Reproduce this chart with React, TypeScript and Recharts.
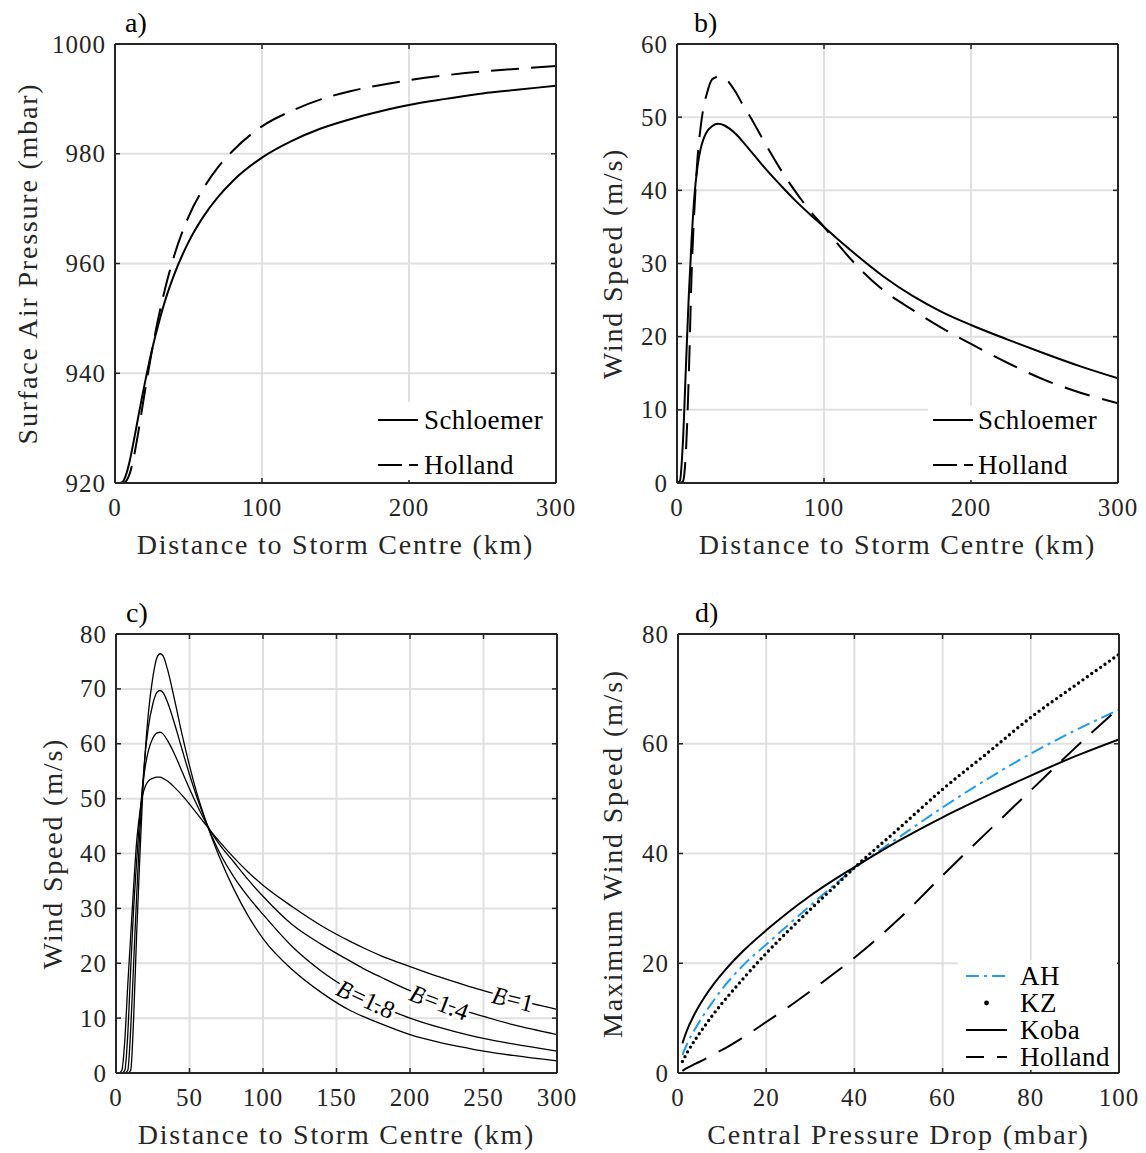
import React from "react";
import { LineChart, Line, XAxis, YAxis, CartesianGrid, Legend } from "recharts";

const FONT = '"Liberation Serif", "Times New Roman", serif';
const INK = "#262626";
const GRID = "#e0e0e0";
const AH_BLUE = "#1f9cf0";

// a) surface pressure vs distance
const A_R = [0, 2, 4, 6, 8, 10, 12, 14, 16, 18, 20, 25, 30, 35, 40, 50, 60, 70, 80, 100, 120, 140, 160, 180, 200, 225, 250, 275, 300];
const A_SCHLOEMER = [920, 920, 920.04, 920.5, 921.9, 924.0, 926.6, 929.4, 932.3, 935.1, 937.8, 944.1, 949.4, 954.0, 957.8, 963.9, 968.5, 972.1, 975.0, 979.3, 982.3, 984.6, 986.3, 987.7, 988.9, 990.0, 991.0, 991.7, 992.4];
const A_HOLLAND = [920, 920, 920, 920.05, 920.5, 921.7, 923.7, 926.4, 929.5, 932.8, 936.1, 943.9, 950.7, 956.4, 961.2, 968.5, 973.6, 977.5, 980.5, 985.0, 987.8, 989.9, 991.4, 992.5, 993.4, 994.3, 995.0, 995.5, 996.0];

// b) wind speed vs distance
const B_R = [0, 2, 4, 6, 8, 10, 12, 14, 16, 18, 20, 24, 28, 32, 36, 40, 45, 50, 55, 60, 70, 80, 90, 100, 110, 120, 140, 160, 180, 200, 225, 250, 275, 300];
const B_SCHLOEMER = [0, 0.3, 5.5, 15.5, 25.5, 33.5, 39.6, 43.3, 45.6, 47.0, 47.9, 48.8, 49.1, 48.9, 48.4, 47.7, 46.6, 45.4, 44.2, 43.0, 40.8, 38.7, 36.8, 35.0, 33.2, 31.5, 28.3, 25.6, 23.4, 21.6, 19.6, 17.7, 15.9, 14.3];
const B_HOLLAND = [0, 0, 0.2, 4, 14.5, 29, 38, 44.5, 48.5, 51.3, 53.0, 55.2, 55.5, 55.4, 54.6, 53.4, 51.6, 50.0, 48.2, 46.4, 43.0, 40.0, 37.3, 35.0, 32.5, 30.2, 26.4, 23.7, 21.2, 19.0, 16.4, 14.1, 12.3, 10.9];

// c) Holland profiles for several B
const C_R = [0, 2, 4, 6, 8, 10, 12, 14, 16, 18, 20, 22, 25, 28, 30, 32, 35, 40, 45, 50, 55, 60, 65, 70, 80, 90, 100, 120, 140, 160, 170, 180, 200, 220, 240, 250, 270, 300];
const C_B10 = [0, 0, 0.5, 6, 16, 25, 34, 42, 47, 50.5, 52.3, 53.2, 53.7, 53.9, 53.9, 53.7, 53.2, 52.0, 50.6, 49.0, 47.3, 45.6, 43.9, 42.3, 39.3, 36.6, 34.2, 30.3, 26.8, 23.9, 22.6, 21.4, 19.4, 17.5, 15.8, 15.0, 13.5, 11.6];
const C_B14 = [0, 0, 0, 0.5, 7, 19, 30, 38.5, 46, 52, 56, 58.7, 61, 62, 62.1, 61.8, 60.6, 58.0, 54.9, 51.8, 48.9, 46.2, 43.8, 41.8, 38.5, 35.2, 32.2, 27.0, 23.4, 20.3, 18.8, 17.5, 15.0, 12.9, 11.1, 10.3, 8.8, 7.0];
const C_B18 = [0, 0, 0, 0, 0.5, 8, 20, 32, 43, 52, 58.5, 63, 67.2, 69.4, 69.7, 69.3, 67.6, 63.5, 58.9, 54.4, 50.3, 46.6, 43.3, 40.4, 35.8, 32.1, 28.9, 23.0, 18.5, 15.0, 13.5, 12.2, 10.0, 8.3, 6.9, 6.3, 5.3, 4.0];
const C_B22 = [0, 0, 0, 0, 0, 0.5, 10, 25, 38, 50, 59, 65.5, 72, 75.8, 76.4, 76.0, 73.6, 67.8, 61.6, 56.0, 51.0, 46.8, 43.0, 39.6, 33.6, 28.6, 24.5, 18.8, 14.6, 11.3, 10.1, 9.0, 7.0, 5.6, 4.5, 4.0, 3.2, 2.2];

// d) maximum wind vs central pressure drop
const D_P = [1, 2, 4, 6, 8, 10, 15, 20, 25, 30, 35, 40, 50, 60, 70, 80, 90, 100];
const D_AH = [3.3, 5.2, 8.2, 10.8, 13.1, 15.3, 19.8, 23.4, 27.0, 30.5, 34.0, 37.3, 42.9, 48.4, 53.5, 58.2, 62.4, 66.2];
const D_KZ = [2.1, 3.6, 6.2, 8.5, 10.7, 12.7, 17.4, 21.8, 25.9, 29.8, 33.6, 37.4, 44.5, 51.7, 58.2, 64.8, 70.6, 76.3];
const D_KOBA = [5.4, 7.7, 11.1, 13.8, 16.1, 18.1, 22.4, 26.0, 29.3, 32.3, 35.0, 37.5, 42.3, 46.6, 50.5, 54.2, 57.7, 60.8];
const D_HOLLAND = [0.4, 0.9, 1.7, 2.5, 3.4, 4.2, 6.6, 9.3, 12.0, 14.9, 17.9, 21.0, 28.0, 36.0, 43.8, 51.5, 59.2, 66.5];

const DIST_TICKS = [0, 100, 200, 300];
const DIST_TICKS_C = [0, 50, 100, 150, 200, 250, 300];
const DROP_TICKS = [0, 20, 40, 60, 80, 100];

// chart box geometry (plot area inside each chart)
const CW = 590;
const CH = 576;
const PL = 115;
const PT = 44;
const PW = 441;
const PH = 439;
const YW = 100;
const TICK = 5;

type Series = {
  key: string;
  name: string;
  values: number[];
  color: string;
  width: number;
  dash?: string;
  legendDash?: string;
  dotted?: boolean;
  tag?: { at: number; text: string; angle: number };
};

type LegendCfg = {
  x: number;
  y: number;
  w: number;
  h: number;
  rows: number[];
  sx0: number;
  sx1: number;
  tx: number;
};

type PanelProps = {
  plotLeft: number;
  plotTop: number;
  tag: string;
  tagDx: number;
  xs: number[];
  xDomain: [number, number];
  xTicks: number[];
  yDomain: [number, number];
  yTicks: number[];
  xTitle: string;
  yTitle: string;
  yTitleDx: number;
  series: Series[];
  legend?: LegendCfg;
};

const BottomTick = (p: any) => (
  <g>
    <line x1={p.x} y1={p.y} x2={p.x} y2={p.y - TICK} stroke={INK} strokeWidth={1.5} />
    <text x={p.x} y={p.y + 33} textAnchor="middle" fill={INK} fontFamily={FONT} fontSize={25} letterSpacing={1}>
      {p.payload.value}
    </text>
  </g>
);

const LeftTick = (p: any) => (
  <g>
    <line x1={p.x} y1={p.y} x2={p.x + TICK} y2={p.y} stroke={INK} strokeWidth={1.5} />
    <text x={p.x - 9} y={p.y + 8.5} textAnchor="end" fill={INK} fontFamily={FONT} fontSize={25} letterSpacing={1}>
      {p.payload.value}
    </text>
  </g>
);

const TopTick = (p: any) => (
  <line x1={p.x} y1={p.y} x2={p.x} y2={p.y + TICK} stroke={INK} strokeWidth={1.5} />
);

const RightTick = (p: any) => (
  <line x1={p.x} y1={p.y} x2={p.x - TICK} y2={p.y} stroke={INK} strokeWidth={1.5} />
);

const XTitle = (p: any) => {
  const vb = p.viewBox || {};
  return (
    <text x={vb.x + vb.width / 2} y={vb.y + 71} textAnchor="middle" fill={INK} fontFamily={FONT} fontSize={28} letterSpacing={1.8}>
      {p.text}
    </text>
  );
};

// y title plus the panel letter above the plot's top-left corner
const YTitle = (p: any) => {
  const vb = p.viewBox || {};
  const left = vb.x + vb.width;
  const cx = left + p.dx;
  const cy = vb.y + vb.height / 2;
  return (
    <g>
      <text x={cx} y={cy} transform={`rotate(-90 ${cx} ${cy})`} textAnchor="middle" dominantBaseline="central" fill={INK} fontFamily={FONT} fontSize={28} letterSpacing={1.8}>
        {p.text}
      </text>
      <text x={left + p.tagDx} y={vb.y - 12} fill="#000" fontFamily={FONT} fontSize={28}>
        {p.tag}
      </text>
    </g>
  );
};

function curveTag(s: Series, xs: number[]) {
  if (!s.tag) return undefined;
  const t = s.tag;
  const idx = xs.indexOf(t.at);
  return (lp: any) => {
    if (lp.index !== idx) return null;
    return (
      <text
        x={lp.x}
        y={lp.y}
        transform={`rotate(${t.angle} ${lp.x} ${lp.y})`}
        textAnchor="middle"
        dominantBaseline="central"
        fontFamily={FONT}
        fontSize={25}
        fill="#000"
        stroke="#fff"
        strokeWidth={7}
        strokeLinejoin="round"
        paintOrder="stroke"
      >
        <tspan fontStyle="italic">B</tspan>={t.text}
      </text>
    );
  };
}

function LegendBox({ cfg, series }: { cfg: LegendCfg; series: Series[] }) {
  return (
    <svg width={cfg.w} height={cfg.h} style={{ display: "block", background: "#fff" }}>
      {series.map((s, i) => {
        const y = cfg.rows[i];
        return (
          <g key={s.key}>
            {s.dotted ? (
              <circle cx={(cfg.sx0 + cfg.sx1) / 2} cy={y} r={2.4} fill={s.color} />
            ) : (
              <line x1={cfg.sx0} y1={y} x2={cfg.sx1} y2={y} stroke={s.color} strokeWidth={s.width} strokeDasharray={s.legendDash || s.dash} />
            )}
            <text x={cfg.tx} y={y + 9} fill="#000" fontFamily={FONT} fontSize={27} letterSpacing={0.4}>
              {s.name}
            </text>
          </g>
        );
      })}
    </svg>
  );
}

function Panel(props: PanelProps) {
  const { xs, series, legend } = props;
  const rows = xs.map((x, i) => {
    const row: Record<string, number> = { x };
    series.forEach((s) => {
      row[s.key] = s.values[i];
    });
    return row;
  });
  const frame = { stroke: INK, strokeWidth: 2 };
  return (
    <div style={{ position: "absolute", left: props.plotLeft - PL, top: props.plotTop - PT, width: CW, height: CH }}>
      <LineChart width={CW} height={CH} data={rows} margin={{ top: PT - 1, right: CW - PL - PW - 1, bottom: 0, left: PL - YW }}>
        <CartesianGrid stroke={GRID} strokeWidth={2} />
        <XAxis
          dataKey="x"
          type="number"
          domain={props.xDomain}
          ticks={props.xTicks}
          interval={0}
          allowDataOverflow
          height={CH - PT - PH}
          tickSize={0}
          tickMargin={0}
          tickLine={false}
          axisLine={frame}
          tick={BottomTick}
          label={<XTitle text={props.xTitle} />}
        />
        <XAxis
          xAxisId="top"
          orientation="top"
          dataKey="x"
          type="number"
          domain={props.xDomain}
          ticks={props.xTicks}
          interval={0}
          allowDataOverflow
          height={1}
          tickSize={0}
          tickMargin={0}
          tickLine={false}
          axisLine={frame}
          tick={TopTick}
        />
        <YAxis
          type="number"
          domain={props.yDomain}
          ticks={props.yTicks}
          interval={0}
          allowDataOverflow
          width={YW}
          tickSize={0}
          tickMargin={0}
          tickLine={false}
          axisLine={frame}
          tick={LeftTick}
          label={<YTitle text={props.yTitle} dx={props.yTitleDx} tag={props.tag} tagDx={props.tagDx} />}
        />
        <YAxis
          yAxisId="right"
          orientation="right"
          type="number"
          domain={props.yDomain}
          ticks={props.yTicks}
          interval={0}
          allowDataOverflow
          width={1}
          tickSize={0}
          tickMargin={0}
          tickLine={false}
          axisLine={frame}
          tick={RightTick}
        />
        {series.map((s) => (
          <Line
            key={s.key}
            dataKey={s.key}
            name={s.name}
            type="monotone"
            stroke={s.color}
            strokeWidth={s.dotted ? 3.4 : s.width}
            strokeDasharray={s.dotted ? "0 5.4" : s.dash}
            strokeLinecap={s.dotted ? "round" : "butt"}
            dot={false}
            activeDot={false}
            isAnimationActive={false}
            label={curveTag(s, xs)}
          />
        ))}
        {legend && (
          <Legend
            layout="vertical"
            align="center"
            verticalAlign="middle"
            wrapperStyle={{ left: legend.x, top: legend.y, width: legend.w, height: legend.h }}
            content={() => <LegendBox cfg={legend} series={series} />}
          />
        )}
      </LineChart>
    </div>
  );
}

export default function App() {
  return (
    <div style={{ position: "absolute", left: 0, top: 0, width: 1146, height: 1153, background: "#fff", overflow: "hidden" }}>
      <Panel
        plotLeft={115}
        plotTop={44}
        tag="a)"
        tagDx={10}
        xs={A_R}
        xDomain={[0, 300]}
        xTicks={DIST_TICKS}
        yDomain={[920, 1000]}
        yTicks={[920, 940, 960, 980, 1000]}
        xTitle="Distance to Storm Centre (km)"
        yTitle="Surface Air Pressure (mbar)"
        yTitleDx={-88}
        series={[
          { key: "s", name: "Schloemer", values: A_SCHLOEMER, color: "#000", width: 2 },
          { key: "h", name: "Holland", values: A_HOLLAND, color: "#000", width: 2, dash: "28 12", legendDash: "24 7" },
        ]}
        legend={{ x: 371, y: 402, w: 184, h: 78, rows: [18, 63], sx0: 7, sx1: 47, tx: 53 }}
      />
      <Panel
        plotLeft={677}
        plotTop={44}
        tag="b)"
        tagDx={17}
        xs={B_R}
        xDomain={[0, 300]}
        xTicks={DIST_TICKS}
        yDomain={[0, 60]}
        yTicks={[0, 10, 20, 30, 40, 50, 60]}
        xTitle="Distance to Storm Centre (km)"
        yTitle="Wind Speed (m/s)"
        yTitleDx={-65}
        series={[
          { key: "s", name: "Schloemer", values: B_SCHLOEMER, color: "#000", width: 2 },
          { key: "h", name: "Holland", values: B_HOLLAND, color: "#000", width: 2, dash: "26 13", legendDash: "24 7" },
        ]}
        legend={{ x: 366, y: 406, w: 189, h: 74, rows: [14, 59], sx0: 5, sx1: 45, tx: 50 }}
      />
      <Panel
        plotLeft={116}
        plotTop={634}
        tag="c)"
        tagDx={10}
        xs={C_R}
        xDomain={[0, 300]}
        xTicks={DIST_TICKS_C}
        yDomain={[0, 80]}
        yTicks={[0, 10, 20, 30, 40, 50, 60, 70, 80]}
        xTitle="Distance to Storm Centre (km)"
        yTitle="Wind Speed (m/s)"
        yTitleDx={-64}
        series={[
          { key: "b10", name: "B=1", values: C_B10, color: "#000", width: 1.3, tag: { at: 270, text: "1", angle: 14 } },
          { key: "b14", name: "B=1.4", values: C_B14, color: "#000", width: 1.3, tag: { at: 220, text: "1.4", angle: 21 } },
          { key: "b18", name: "B=1.8", values: C_B18, color: "#000", width: 1.3, tag: { at: 170, text: "1.8", angle: 25 } },
          { key: "b22", name: "B=2.2", values: C_B22, color: "#000", width: 1.3 },
        ]}
      />
      <Panel
        plotLeft={678}
        plotTop={634}
        tag="d)"
        tagDx={17}
        xs={D_P}
        xDomain={[0, 100]}
        xTicks={DROP_TICKS}
        yDomain={[0, 80]}
        yTicks={[0, 20, 40, 60, 80]}
        xTitle="Central Pressure Drop (mbar)"
        yTitle="Maximum Wind Speed (m/s)"
        yTitleDx={-66}
        series={[
          { key: "ah", name: "AH", values: D_AH, color: AH_BLUE, width: 2, dash: "13 5 3 5" },
          { key: "kz", name: "KZ", values: D_KZ, color: "#000", width: 2, dotted: true },
          { key: "koba", name: "Koba", values: D_KOBA, color: "#000", width: 2 },
          { key: "hol", name: "Holland", values: D_HOLLAND, color: "#000", width: 2, dash: "27 14", legendDash: "18 13" },
        ]}
        legend={{ x: 395, y: 370, w: 159, h: 110, rows: [16, 43, 70, 97], sx0: 8, sx1: 49, tx: 62 }}
      />
    </div>
  );
}
